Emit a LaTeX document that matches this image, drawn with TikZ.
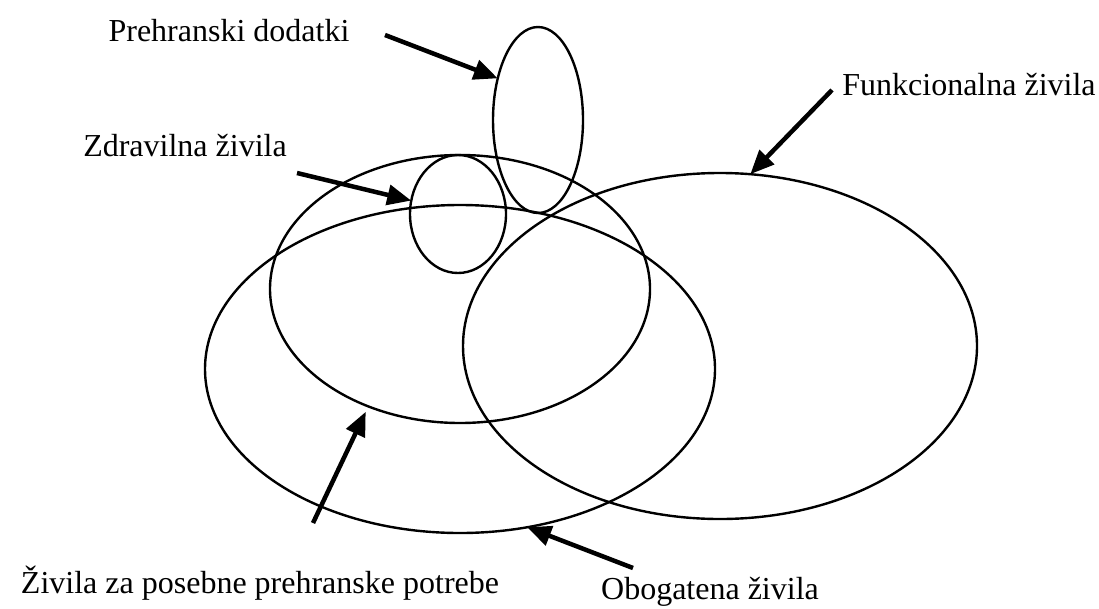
\documentclass[tikz,border=0pt]{standalone}
\usepackage{fontspec}
\setmainfont{Liberation Serif}
\usetikzlibrary{arrows.meta, shapes.geometric}

\begin{document}
\begin{tikzpicture}[x=1pt, y=-1pt,
    group/.style={ellipse, draw=black, line width=2.4pt, inner sep=0pt, outer sep=0pt},
    label/.style={font=\fontsize{32}{38}\selectfont, inner sep=0pt},
    pointer/.style={-{Triangle[length=24pt, width=20pt]}, line width=4.5pt}
]
\useasboundingbox (0,0) rectangle (1099,608);

% Groups
\node[group, minimum width=90pt, minimum height=186pt] (dodatki) at (538,120) {};
\node[group, minimum width=96pt, minimum height=118pt] (zdravilna) at (458,214) {};
\node[group, minimum width=380pt, minimum height=268pt] (posebne) at (460,289) {};
\node[group, minimum width=510pt, minimum height=328pt] (obogatena) at (460,369) {};
\node[group, minimum width=514pt, minimum height=346pt] (funkcionalna) at (720,346) {};

% Labels
\node[label] (tdodatki) at (229,31) {Prehranski dodatki};
\node[label] (tzdravilna) at (185,146) {Zdravilna živila};
\node[label] (tfunkcionalna) at (969,85) {Funkcionalna živila};
\node[label] (tposebne) at (260,583) {Živila za posebne prehranske potrebe};
\node[label] (tobogatena) at (710,592) {Obogatena živila};

% Arrow tails
\coordinate (adodatki) at (385,35);
\coordinate (azdravilna) at (297,173);
\coordinate (afunkcionalna) at (832,90);
\coordinate (aposebne) at (313,523);
\coordinate (aobogatena) at (633,568);

% Pointers
\draw[pointer] (adodatki) -- (dodatki.134);
\draw[pointer] (azdravilna) -- (zdravilna.164);
\draw[pointer] (afunkcionalna) -- (funkcionalna.80);
\draw[pointer, shorten >=6pt] (aposebne) -- (posebne.232);
\draw[pointer] (aobogatena) -- (obogatena.293);

\end{tikzpicture}
\end{document}
